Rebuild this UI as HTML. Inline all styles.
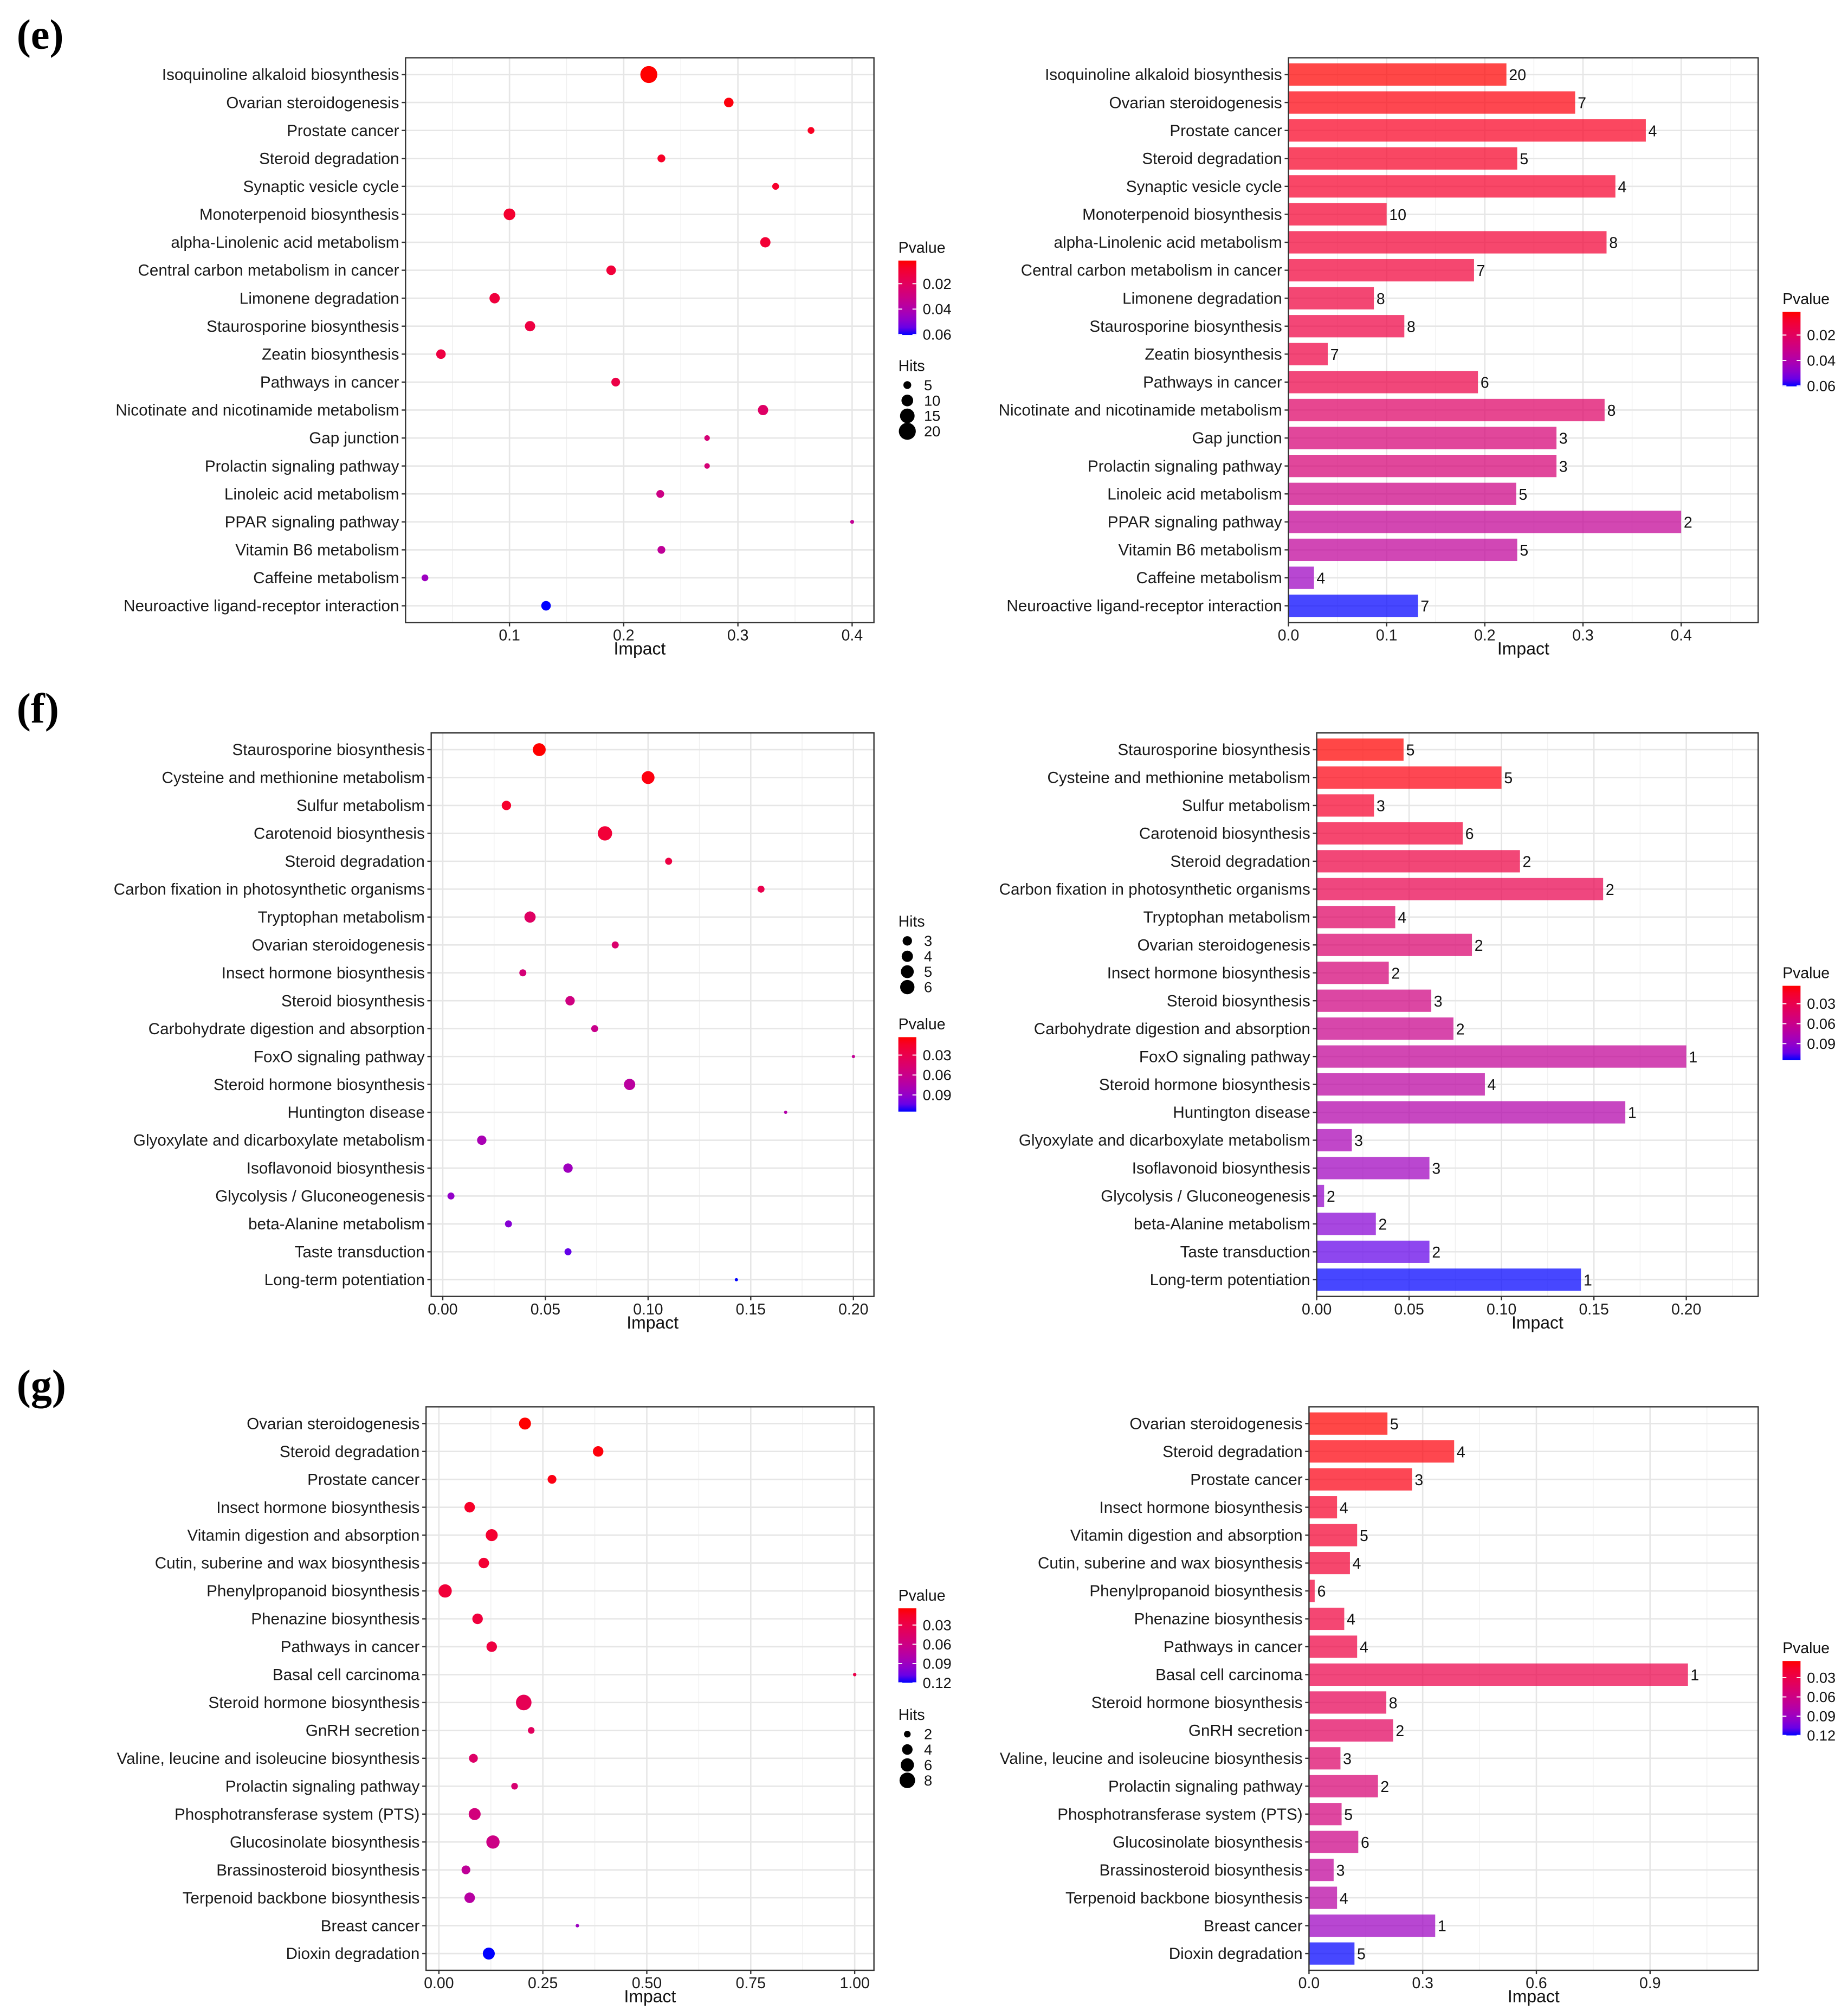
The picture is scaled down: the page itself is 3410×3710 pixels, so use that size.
<!DOCTYPE html>
<html><head><meta charset="utf-8"><style>
html,body{margin:0;padding:0;background:#fff;}
svg{display:block;}
text{font-family:"Liberation Sans",Arial,sans-serif;}
</style></head><body>
<svg id="fig" xmlns="http://www.w3.org/2000/svg" width="3410" height="3710" viewBox="0 0 1440 1566.7" preserveAspectRatio="none">
<rect x="0" y="0" width="1440" height="1566.7" fill="#fff"/>
<text x="13" y="38" font-weight="bold" font-size="33" style="font-family:'Liberation Serif',serif">(e)</text>
<text x="13" y="563" font-weight="bold" font-size="33" style="font-family:'Liberation Serif',serif">(f)</text>
<text x="13" y="1090" font-weight="bold" font-size="33" style="font-family:'Liberation Serif',serif">(g)</text>
</svg>
<script>
// ---------- Panel e data ----------
const eCats = ["Isoquinoline alkaloid biosynthesis","Ovarian steroidogenesis","Prostate cancer","Steroid degradation","Synaptic vesicle cycle","Monoterpenoid biosynthesis","alpha-Linolenic acid metabolism","Central carbon metabolism in cancer","Limonene degradation","Staurosporine biosynthesis","Zeatin biosynthesis","Pathways in cancer","Nicotinate and nicotinamide metabolism","Gap junction","Prolactin signaling pathway","Linoleic acid metabolism","PPAR signaling pathway","Vitamin B6 metabolism","Caffeine metabolism","Neuroactive ligand-receptor interaction"];
const eImpact = [0.222,0.292,0.364,0.233,0.333,0.100,0.324,0.189,0.087,0.118,0.040,0.193,0.322,0.273,0.273,0.232,0.400,0.233,0.026,0.132];
const eHits = [20,7,4,5,4,10,8,7,8,8,7,6,8,3,3,5,2,5,4,7];
const ePvalue = [0.0018,0.003,0.006,0.007,0.008,0.009,0.010,0.011,0.012,0.013,0.013,0.014,0.022,0.026,0.026,0.030,0.034,0.035,0.045,0.0604];
const eDotTicks = [0.1,0.2,0.3,0.4];
const eBarTicks = [0.0,0.1,0.2,0.3,0.4];
const ePTicks = [0.02,0.04,0.06];
const eSizeTicks = [5,10,15,20];
// ---------- Panel f data ----------
const fCats = ["Staurosporine biosynthesis","Cysteine and methionine metabolism","Sulfur metabolism","Carotenoid biosynthesis","Steroid degradation","Carbon fixation in photosynthetic organisms","Tryptophan metabolism","Ovarian steroidogenesis","Insect hormone biosynthesis","Steroid biosynthesis","Carbohydrate digestion and absorption","FoxO signaling pathway","Steroid hormone biosynthesis","Huntington disease","Glyoxylate and dicarboxylate metabolism","Isoflavonoid biosynthesis","Glycolysis / Gluconeogenesis","beta-Alanine metabolism","Taste transduction","Long-term potentiation"];
const fImpact = [0.047,0.100,0.031,0.079,0.110,0.155,0.0425,0.084,0.039,0.062,0.074,0.200,0.091,0.167,0.019,0.061,0.004,0.032,0.061,0.143];
const fHits = [5,5,3,6,2,2,4,2,2,3,2,1,4,1,3,3,2,2,2,1];
const fPvalue = [0.003,0.006,0.015,0.020,0.025,0.030,0.040,0.045,0.050,0.055,0.060,0.065,0.070,0.075,0.080,0.085,0.090,0.095,0.105,0.115];
const fDotTicks = [0.00,0.05,0.10,0.15,0.20];
const fBarTicks = [0.00,0.05,0.10,0.15,0.20];
const fPTicks = [0.03,0.06,0.09];
const fSizeTicks = [3,4,5,6];
// ---------- Panel g data ----------
const gCats = ["Ovarian steroidogenesis","Steroid degradation","Prostate cancer","Insect hormone biosynthesis","Vitamin digestion and absorption","Cutin, suberine and wax biosynthesis","Phenylpropanoid biosynthesis","Phenazine biosynthesis","Pathways in cancer","Basal cell carcinoma","Steroid hormone biosynthesis","GnRH secretion","Valine, leucine and isoleucine biosynthesis","Prolactin signaling pathway","Phosphotransferase system (PTS)","Glucosinolate biosynthesis","Brassinosteroid biosynthesis","Terpenoid backbone biosynthesis","Breast cancer","Dioxin degradation"];
const gImpact = [0.207,0.383,0.272,0.074,0.127,0.108,0.015,0.093,0.127,1.0,0.204,0.222,0.083,0.182,0.086,0.130,0.065,0.074,0.333,0.120];
const gHits = [5,4,3,4,5,4,6,4,4,1,8,2,3,2,5,6,3,4,1,5];
const gPvalue = [0.004,0.006,0.008,0.015,0.018,0.020,0.022,0.024,0.026,0.030,0.035,0.040,0.045,0.050,0.055,0.060,0.070,0.075,0.090,0.120];
const gDotTicks = [0.00,0.25,0.50,0.75,1.00];
const gBarTicks = [0.0,0.3,0.6,0.9];
const gPTicks = [0.03,0.06,0.09,0.12];
const gSizeTicks = [2,4,6,8];

const NS = "http://www.w3.org/2000/svg";
const svg = document.getElementById('fig');
function mk(tag, attrs, parent, txt){
  const e = document.createElementNS(NS, tag);
  for (const k in attrs) e.setAttribute(k, attrs[k]);
  if (txt !== undefined) e.textContent = txt;
  (parent || svg).appendChild(e);
  return e;
}
const LR=[53.24,80.09,67.20], LB=[32.30,79.19,-107.86];
function labColor(t){
  t=Math.max(0,Math.min(1,t));
  const L=LR[0]+(LB[0]-LR[0])*t, a=LR[1]+(LB[1]-LR[1])*t, b=LR[2]+(LB[2]-LR[2])*t;
  const fy=(L+16)/116, fx=fy+a/500, fz=fy-b/200;
  const inv=v=>v>0.206893?v*v*v:(v-16/116)/7.787;
  const X=0.95047*inv(fx), Y=inv(fy), Z=1.08883*inv(fz);
  let r=3.2406*X-1.5372*Y-0.4986*Z, g=-0.9689*X+1.8758*Y+0.0415*Z, bb=0.0557*X-0.2040*Y+1.0570*Z;
  const gm=v=>{v=v<=0.0031308?12.92*v:1.055*Math.pow(v,1/2.4)-0.055;return Math.round(Math.max(0,Math.min(1,v))*255);};
  return `rgb(${gm(r)},${gm(g)},${gm(bb)})`;
}
function fmt(v, ticks){
  let dec=0; ticks.forEach(t=>{const s=String(t);const d=s.includes('.')?s.split('.')[1].length:0;dec=Math.max(dec,d);});
  return v.toFixed(dec);
}
function fmtAxis(ticks){
  let dec=0; ticks.forEach(t=>{const s=String(t);const d=s.includes('.')?s.split('.')[1].length:0;dec=Math.max(dec,d);});
  if (ticks.some(t=>t%1!==0)&&dec===0) dec=1;
  return ticks.map(t=>t.toFixed(dec));
}

function drawPanel(cfg, cats, impact, hits, pv, xTicks){
  const g = mk('g',{});
  
  
  const {x0,x1,y0,y1,dMin,dMax} = cfg;
  const xs = v => x0 + (v-dMin)/(dMax-dMin)*(x1-x0);
  const n = cats.length;
  const step = (y1-y0)/(n-1+1.2);
  const ys = i => y0 + step*(0.6+i);
  const pMin = Math.min(...pv), pMax = Math.max(...pv);
  const col = p => labColor((p-pMin)/(pMax-pMin));
  mk('rect',{x:x0,y:y0,width:x1-x0,height:y1-y0,fill:'#fff'},g);
  const dt = xTicks[1]-xTicks[0];
  for (let k=-2;k<xTicks.length+3;k++){
    const v = xTicks[0]+dt*(k+0.5);
    if (v<=dMin||v>=dMax) continue;
    mk('line',{x1:xs(v),x2:xs(v),y1:y0,y2:y1,stroke:'#EFEFEF','stroke-width':0.6},g);
  }
  for (let k=-2;k<xTicks.length+3;k++){
    const v = xTicks[0]+dt*k;
    if (v<=dMin||v>=dMax) continue;
    mk('line',{x1:xs(v),x2:xs(v),y1:y0,y2:y1,stroke:'#E6E6E6','stroke-width':1.1},g);
  }
  for (let i=0;i<n;i++) mk('line',{x1:x0,x2:x1,y1:ys(i),y2:ys(i),stroke:'#E6E6E6','stroke-width':1.1},g);
  for (let i=0;i<n;i++){
    if (cfg.type==='bar'){
      const bh = step*0.8;
      const r = mk('rect',{x:xs(0),y:ys(i)-bh/2,width:xs(impact[i])-xs(0),height:bh,fill:col(pv[i]),'fill-opacity':0.72},g);
      
      
      const t = mk('text',{x:xs(impact[i])+2,y:ys(i)+4.5,'font-size':12,fill:'#111'},g,String(hits[i]));
      
      
    } else {
      const rr = Math.sqrt(Math.max(0.8, cfg.sa + cfg.sb*hits[i]));
      const c = mk('circle',{cx:xs(impact[i]),cy:ys(i),r:rr,fill:col(pv[i])},g);
      
      
    }
  }
  mk('rect',{x:x0,y:y0,width:x1-x0,height:y1-y0,fill:'none',stroke:'#333','stroke-width':1},g);
  for (let i=0;i<n;i++){
    mk('line',{x1:x0-3,x2:x0,y1:ys(i),y2:ys(i),stroke:'#333','stroke-width':1},g);
    const t = mk('text',{x:x0-5,y:ys(i)+4.3,'font-size':12.5,'text-anchor':'end',fill:'#1a1a1a'},g,cats[i]);
    
    
  }
  const lbl = fmtAxis(xTicks);
  xTicks.forEach((v,k)=>{
    mk('line',{x1:xs(v),x2:xs(v),y1:y1,y2:y1+3,stroke:'#333','stroke-width':1},g);
    const t = mk('text',{x:xs(v),y:y1+14,'font-size':12,'text-anchor':'middle',fill:'#1a1a1a'},g,lbl[k]);
    
    
  });
  const tt = mk('text',{x:(x0+x1)/2,y:y1+25,'font-size':13.5,'text-anchor':'middle',fill:'#111'},g,'Impact');
  
  
  const L = cfg.pLeg;
  const gl = mk('g',{},g);
  
  
  mk('text',{x:L.x,y:L.y+4,'font-size':12,fill:'#111'},gl,'Pvalue');
  const gid = 'grad-'+cfg.name;
  const defs = mk('defs',{},gl);
  const lg = mk('linearGradient',{id:gid,x1:0,y1:0,x2:0,y2:1},defs);
  for (let s=0;s<=10;s++) mk('stop',{offset:s/10,'stop-color':labColor(s/10)},lg);
  const by0=L.y+10, bh=58;
  mk('rect',{x:L.x,y:by0,width:14,height:bh,fill:`url(#${gid})`},gl);
  cfg.pTicks.forEach(p=>{
    const yy = by0 + (p-pMin)/(pMax-pMin)*bh;
    mk('line',{x1:L.x,x2:L.x+3,y1:yy,y2:yy,stroke:'#fff','stroke-width':0.8},gl);
    mk('line',{x1:L.x+11,x2:L.x+14,y1:yy,y2:yy,stroke:'#fff','stroke-width':0.8},gl);
    mk('text',{x:L.x+19,y:yy+4,'font-size':11.5,fill:'#111'},gl,fmt(p,cfg.pTicks));
  });
  if (cfg.sLeg){
    const S = cfg.sLeg;
    const gs = mk('g',{},g);
    
    
    mk('text',{x:S.x,y:S.y+4,'font-size':12,fill:'#111'},gs,'Hits');
    cfg.sTicks.forEach((h,k)=>{
      const yy = S.y+15+k*12;
      const rr = Math.sqrt(Math.max(0.8, cfg.sa + cfg.sb*h));
      mk('circle',{cx:S.x+7,cy:yy,r:rr,fill:'#000'},gs);
      mk('text',{x:S.x+20,y:yy+4,'font-size':11.5,fill:'#111'},gs,String(h));
    });
  }
}

drawPanel({name:'e-dot-plot',type:'dot',x0:316,x1:681,y0:45,y1:485,dMin:(316-308)/890,dMax:(681-308)/890,
  sa:-2.2,sb:2.3,pTicks:ePTicks,sTicks:eSizeTicks,pLeg:{x:700,y:193},sLeg:{x:700,y:285}}, eCats,eImpact,eHits,ePvalue,eDotTicks);
drawPanel({name:'e-bar-plot',type:'bar',x0:1004,x1:1370,y0:45,y1:485,dMin:0,dMax:(1370-1004)/765,
  pTicks:ePTicks,pLeg:{x:1389,y:233}}, eCats,eImpact,eHits,ePvalue,eBarTicks);
drawPanel({name:'f-dot-plot',type:'dot',x0:336,x1:681,y0:571,y1:1010,dMin:(336-345)/1600,dMax:(681-345)/1600,
  sa:-4.3,sb:5.9,pTicks:fPTicks,sTicks:fSizeTicks,pLeg:{x:700,y:798},sLeg:{x:700,y:718}}, fCats,fImpact,fHits,fPvalue,fDotTicks);
drawPanel({name:'f-bar-plot',type:'bar',x0:1026,x1:1370,y0:571,y1:1010,dMin:0,dMax:(1370-1026)/1440,
  pTicks:fPTicks,pLeg:{x:1389,y:758}}, fCats,fImpact,fHits,fPvalue,fBarTicks);
drawPanel({name:'g-dot-plot',type:'dot',x0:332,x1:681,y0:1096,y1:1535,dMin:(332-342)/324,dMax:(681-342)/324,
  sa:-3.2,sb:5.0,pTicks:gPTicks,sTicks:gSizeTicks,pLeg:{x:700,y:1243},sLeg:{x:700,y:1336}}, gCats,gImpact,gHits,gPvalue,gDotTicks);
drawPanel({name:'g-bar-plot',type:'bar',x0:1020,x1:1370,y0:1096,y1:1535,dMin:0,dMax:(1370-1020)/295.3,
  pTicks:gPTicks,pLeg:{x:1389,y:1284}}, gCats,gImpact,gHits,gPvalue,gBarTicks);
</script>
</body></html>
